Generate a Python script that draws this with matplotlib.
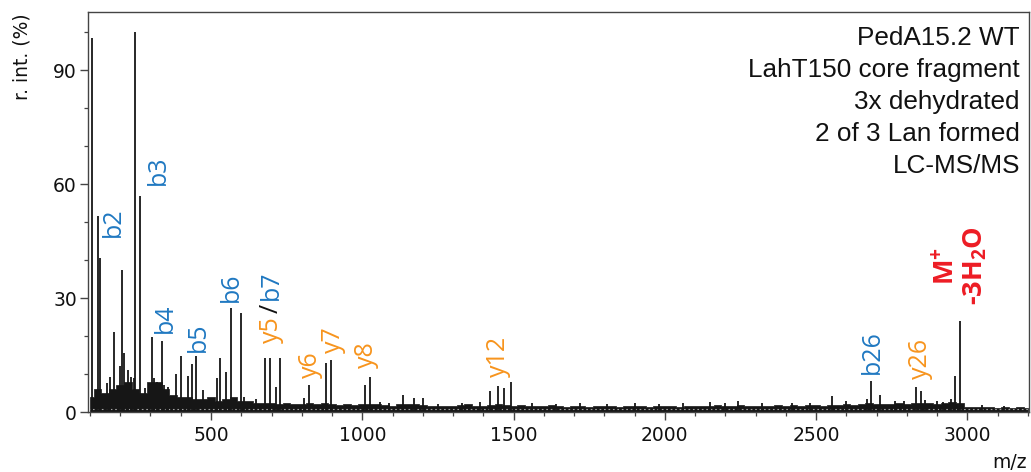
import matplotlib
matplotlib.use("Agg")
import matplotlib.pyplot as plt
from matplotlib.ticker import MultipleLocator

# ---------------- data ----------------
peak_mz = [107.7, 127.5, 134, 155, 166, 180, 199, 207, 213, 224, 236, 244, 249, 265,
           282, 305, 312, 320, 337, 345, 359, 383, 401, 425, 437, 450, 474, 519, 530,
           549, 565, 600, 610, 650, 678, 695, 714, 729, 806, 824, 879, 897, 1008, 1025,
           1060, 1090, 1134, 1172, 1202, 1250, 1330, 1390, 1423, 1450, 1468, 1491,
           1560, 1640, 1720, 1810, 1900, 1980, 2060, 2150, 2200, 2243, 2320, 2420,
           2480, 2553, 2600, 2667, 2682, 2711, 2760, 2790, 2830, 2846, 2860, 2900,
           2920, 2945, 2959, 2976, 3050, 3120]
peak_int = [98.5, 51.6, 40.5, 7.6, 9.3, 21.1, 12.0, 37.5, 15.5, 11.0, 9.3, 9.0, 100.0, 56.9,
            6.3, 19.7, 9.0, 8.0, 18.7, 7.0, 6.7, 10.0, 14.7, 9.5, 12.6, 14.8, 5.8, 9.0, 14.2,
            10.6, 27.3, 26.0, 4.0, 3.5, 14.3, 14.2, 6.7, 14.3, 3.6, 7.1, 12.8, 13.7, 7.1, 9.3,
            2.6, 2.4, 4.4, 3.7, 3.7, 2.2, 2.5, 2.6, 5.4, 6.8, 6.4, 8.0,
            2.3, 2.1, 2.4, 2.2, 2.5, 2.2, 2.3, 2.6, 2.5, 2.9, 2.3, 2.4,
            2.5, 4.2, 2.8, 3.4, 8.2, 4.5, 3.0, 2.8, 6.5, 5.6, 3.2, 3.0,
            2.7, 3.4, 9.5, 24.0, 1.8, 1.6]

noise_mz = list(range(100, 3201, 25))
noise_int = [4, 6, 5, 6, 7, 8, 6, 5, 8, 8, 6, 4.5, 4, 4, 3.5, 3.5, 4, 3, 3.5, 4, 3, 3,
             2.5, 2.5, 2.5, 2.2, 2.5, 2, 2, 2.5, 2, 2.5, 2, 1.8, 2, 1.8, 2, 2, 2.2, 1.8,
             1.6, 2, 2.2, 2, 1.8, 1.5, 1.7, 1.5, 1.6, 1.8, 2, 1.7, 1.6, 1.9, 2, 1.8, 1.6,
             1.8, 1.7, 1.5, 1.6, 1.8, 1.5, 1.4, 1.7, 1.6, 1.4, 1.5, 1.7, 1.5, 1.4, 1.6,
             1.7, 1.5, 1.4, 1.6, 1.5, 1.6, 1.4, 1.5, 1.7, 1.5, 1.6, 1.8, 1.7, 1.6, 1.8,
             1.6, 1.5, 1.7, 1.6, 1.8, 1.7, 1.9, 1.7, 1.9, 1.8, 1.7, 1.9, 1.8, 2, 1.9, 2.2,
             2.4, 2.2, 2, 2.1, 2.3, 2, 2.4, 2.5, 2.3, 2.2, 2.4, 2.6, 2.4, 1.4, 1.2, 1.3,
             1.2, 1.1, 1.2, 1.1, 1.2, 1.1]

# fragment labels: (text, colour key, m/z of baseline, intensity at text start)
frag_text = ["b2", "b3", "b4", "b5", "b6", "y6", "y7", "y8", "y12", "b26", "y26"]
frag_kind = ["b", "b", "b", "b", "b", "y", "y", "y", "y", "b", "y"]
frag_mz = [199.5, 348, 371, 480, 589, 850, 926, 1036, 1472, 2709, 2867]
frag_int = [46.1, 59.7, 20.8, 15.8, 28.9, 8.9, 15.5, 11.6, 9.3, 10.0, 8.7]

info_lines = ["PedA15.2 WT", "LahT150 core fragment", "3x dehydrated",
              "2 of 3 Lan formed", "LC-MS/MS"]

x_major = [500, 1000, 1500, 2000, 2500, 3000]
y_major = [0, 30, 60, 90]

BLUE = "#1f78c1"
ORANGE = "#f7941d"
RED = "#ed1c24"
INK = "#161616"
colors = {"b": BLUE, "y": ORANGE}

plt.rcParams["mathtext.fontset"] = "custom"
plt.rcParams["mathtext.rm"] = "Open Sans"
plt.rcParams["mathtext.bf"] = "Open Sans:bold"

W, H = 1031, 472
fig = plt.figure(figsize=(W / 100, H / 100), dpi=100)
ax = fig.add_axes([88 / W, 60 / H, 941 / W, 400 / H])

ax.fill_between(noise_mz, 0, noise_int, step="mid", color=INK, lw=0.5)
ax.axhline(0.7, color="white", lw=0.8, ls=(0, (1.5, 2.5)), alpha=0.6)
ax.vlines(peak_mz, 0, peak_int, color=INK, lw=1.3)

ax.set_xlim(93.4, 3204)
ax.set_ylim(0, 105.3)
ax.set_xticks(x_major)
ax.set_yticks(y_major)
ax.xaxis.set_minor_locator(MultipleLocator(100))
ax.yaxis.set_minor_locator(MultipleLocator(10))
for s in ax.spines.values():
    s.set_color("#444444")
    s.set_linewidth(1.0)
ax.tick_params(which="major", direction="out", length=6, width=1.0, color="#444444",
               labelsize=13.5, labelcolor="#111111")
ax.tick_params(which="minor", direction="out", length=3, width=0.9, color="#444444")
ax.tick_params(axis="y", pad=2)
ax.tick_params(axis="x", pad=4)

fig.text(22 / W, 1 - 13 / H, "r. int. (%)", rotation=90, ha="center", va="top",
         fontsize=13.5, color="#111111")
fig.text(1027 / W, 1 - 462 / H, "m/z", ha="right", va="center", fontsize=13.5,
         color="#111111")

for i, line in enumerate(info_lines):
    fig.text(1020 / W, 1 - (45 + 32 * i) / H, line, ha="right", va="baseline",
             fontsize=18.8, family="Liberation Sans", color="#111111")

lab_kw = dict(rotation=90, rotation_mode="anchor", ha="left", va="baseline",
              fontsize=18, family="Open Sans")
for t, k, mz, y in zip(frag_text, frag_kind, frag_mz, frag_int):
    ax.text(mz, y, t, color=colors[k], **lab_kw)

# composite y5/b7 label
ax.text(721, 18.2, "y5", color=ORANGE, **lab_kw)
ax.text(721, 26.1, "/", color="#111111", **lab_kw)
ax.text(721, 29.5, "b7", color=BLUE, **lab_kw)

# precursor label
red_kw = dict(lab_kw)
red_kw["fontsize"] = 19.5
ax.text(2957, 33.4, r"M$^{\mathbf{+}}$", color=RED, fontweight="bold", **red_kw)
ax.text(3050, 28.2, r"-3H$_{\mathbf{2}}$O", color=RED, fontweight="bold", **red_kw)

fig.savefig("out.png", dpi=100)
